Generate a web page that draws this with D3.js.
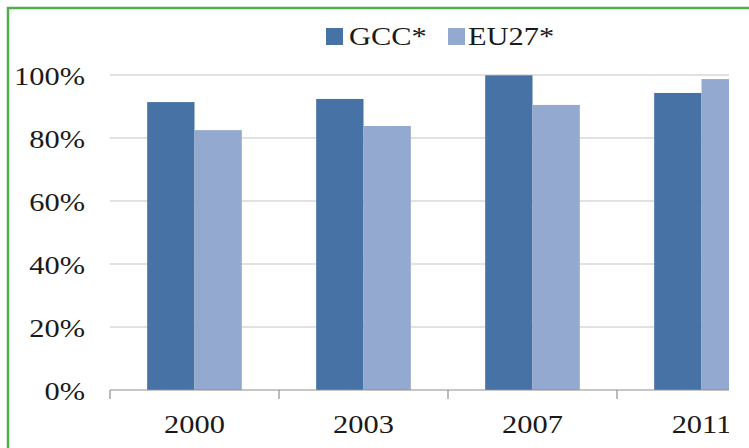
<!DOCTYPE html>
<html>
<head>
<meta charset="utf-8">
<script src="https://cdn.jsdelivr.net/npm/d3@7"></script>
<style>
  html, body { margin: 0; padding: 0; background: #fff; }
  svg { display: block; }
  text { font-family: "Liberation Serif", "Times New Roman", serif; fill: #1a1a1a; }
</style>
</head>
<body>
<script>
// Share of each group by year
const years = ["2000", "2003", "2007", "2011"];
const seriesNames = ["GCC*", "EU27*"];
const gccValues = [0.914, 0.924, 0.999, 0.943];
const eu27Values = [0.825, 0.838, 0.905, 0.987];
const yTicks = [0, 0.2, 0.4, 0.6, 0.8, 1.0];
const seriesColors = ["#4672A6", "#94A9D0"];

const W = 749, H = 448;
const stretch = 1.17;           // glyphs are drawn slightly wide
const fontSize = 26;

const rows = years.map((yr, i) => ({ year: yr, values: [gccValues[i], eu27Values[i]] }));

const svg = d3.select("body").append("svg")
  .attr("width", W).attr("height", H);

svg.append("rect").attr("width", W).attr("height", H).attr("fill", "#fff");

// Visible frame of the chart; everything past it is cut off
svg.append("defs").append("clipPath").attr("id", "frame")
  .append("rect").attr("x", 9).attr("y", 9).attr("width", 720).attr("height", 426);

const g = svg.append("g").attr("clip-path", "url(#frame)");

const x = d3.scaleBand().domain(years).range([110, 786])
  .paddingInner(0.44).paddingOuter(0.22);
const xs = d3.scaleBand().domain(seriesNames).range([0, x.bandwidth()]);
const y = d3.scaleLinear().domain([0, 1]).range([390, 75]);

function stretchedText(sel, tx, ty, anchor, str) {
  return sel.append("text")
    .attr("transform", `translate(${tx},${ty}) scale(${stretch},1)`)
    .attr("text-anchor", anchor)
    .attr("font-size", fontSize)
    .text(str);
}

// Horizontal gridlines
g.selectAll("line.grid").data(yTicks.filter(t => t > 0)).join("line")
  .attr("class", "grid")
  .attr("x1", 110).attr("x2", 786)
  .attr("y1", d => y(d)).attr("y2", d => y(d))
  .attr("stroke", "#c4c4c4").attr("stroke-width", 1.2);

// Y tick labels
const fmt = d3.format(".0%");
yTicks.forEach(t => stretchedText(g, 85, y(t) + 9.5, "end", fmt(t)));

// Bars
const groups = g.selectAll("g.year").data(rows).join("g")
  .attr("class", "year")
  .attr("transform", d => `translate(${x(d.year)},0)`);

groups.selectAll("rect").data(d => d.values.map((v, i) => ({ name: seriesNames[i], v, i }))).join("rect")
  .attr("x", d => xs(d.name))
  .attr("width", xs.bandwidth())
  .attr("y", d => y(d.v))
  .attr("height", d => y(0) - y(d.v))
  .attr("fill", d => seriesColors[d.i]);

// Category axis: baseline plus ticks between categories
const step = x.step();
const gap = (step - x.bandwidth()) / 2;
g.append("line")
  .attr("x1", 110).attr("x2", 786)
  .attr("y1", y(0)).attr("y2", y(0))
  .attr("stroke", "#8f8f8f").attr("stroke-width", 1.2);
g.selectAll("line.xtick").data(years).join("line")
  .attr("class", "xtick")
  .attr("x1", d => x(d) - gap).attr("x2", d => x(d) - gap)
  .attr("y1", y(0)).attr("y2", y(0) + 9)
  .attr("stroke", "#8f8f8f").attr("stroke-width", 1.2);

years.forEach(yr => stretchedText(g, x(yr) + x.bandwidth() / 2, 432.5, "middle", yr));

// Legend
const legend = svg.append("g");
const legendItems = [
  { name: seriesNames[0], box: 326, text: 349 },
  { name: seriesNames[1], box: 448, text: 468 }
];
legendItems.forEach((it, i) => {
  legend.append("rect")
    .attr("x", it.box).attr("y", 28).attr("width", 17).attr("height", 17)
    .attr("fill", seriesColors[i]);
  stretchedText(legend, it.text, 45, "start", it.name);
});

// Green frame on the top and left edges
svg.append("path")
  .attr("d", `M8,${H} L8,8 L${W},8`)
  .attr("fill", "none")
  .attr("stroke", "#4caf4c")
  .attr("stroke-width", 2.5);
</script>
</body>
</html>
